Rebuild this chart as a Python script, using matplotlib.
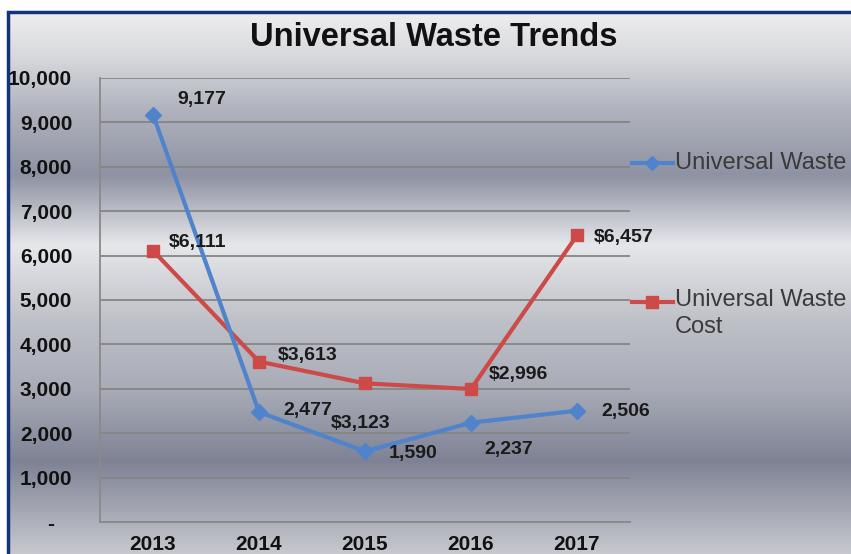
import matplotlib

matplotlib.use("Agg")
import matplotlib.pyplot as plt
import numpy as np
from matplotlib.colors import LinearSegmentedColormap
from matplotlib.lines import Line2D
from matplotlib.patches import Rectangle
from matplotlib.ticker import FuncFormatter

# --- data ---
years = ["2013", "2014", "2015", "2016", "2017"]
waste_lbs = [9177, 2477, 1590, 2237, 2506]
waste_cost = [6111, 3613, 3123, 2996, 6457]

# label offsets (pixels) from each point
waste_offsets = [(24, 15), (24, 2), (24, -2), (13, -27), (24, -1)]
cost_offsets = [(16, 8), (19, 6), (-34, -40), (18, 14), (17, -2)]

W, H = 851, 554
BLUE = "#4f84cc"
RED = "#cc4a48"
BORDER = "#15337a"

plt.rcParams["font.family"] = ["Liberation Sans", "DejaVu Sans"]

fig = plt.figure(figsize=(W / 100, H / 100), dpi=100)
fig.patch.set_facecolor("white")

# banded grey background behind everything
bg = fig.add_axes([8 / W, 0, 1 - 8 / W, 1 - 12 / H], zorder=0)
stops = [
    (0.00, "#c6c8ce"),
    (0.17, "#7e8294"),
    (0.30, "#a8abb6"),
    (0.43, "#bfc1c8"),
    (0.57, "#e6e7ea"),
    (0.70, "#8e92a2"),
    (0.82, "#b0b3bd"),
    (0.92, "#d8d9dd"),
    (1.00, "#eeeef0"),
]
cmap = LinearSegmentedColormap.from_list("bands", stops)
grad = np.linspace(0, 1, 512).reshape(-1, 1)
bg.imshow(grad, aspect="auto", cmap=cmap, origin="lower", extent=[0, 1, 0, 1])
bg.set_axis_off()

# frame around the chart (right and bottom edges run off the canvas)
fig.patches.append(
    Rectangle((8 / W, -0.1), 1.2, 1.1 - 12 / H, transform=fig.transFigure,
              fill=False, edgecolor=BORDER, linewidth=2.5, zorder=5)
)

ax = fig.add_axes([100 / W, 32 / H, 530 / W, 444 / H], zorder=2)
ax.patch.set_alpha(0)

x = np.arange(len(years))
ax.plot(x, waste_lbs, color=BLUE, lw=3, marker="D", ms=8, zorder=4)
ax.plot(x, waste_cost, color=RED, lw=3, marker="s", ms=9, zorder=3)

for xi, v, (dx, dy) in zip(x, waste_lbs, waste_offsets):
    ax.annotate(f"{v:,}", (xi, v), xytext=(dx, dy), textcoords="offset pixels",
                ha="left", va="center", fontsize=14, fontweight="bold",
                color="#1a1a1a", zorder=6)
for xi, v, (dx, dy) in zip(x, waste_cost, cost_offsets):
    ax.annotate(f"${v:,}", (xi, v), xytext=(dx, dy), textcoords="offset pixels",
                ha="left", va="center", fontsize=14, fontweight="bold",
                color="#1a1a1a", zorder=6)

ax.set_xlim(-0.5, len(years) - 0.5)
ax.set_ylim(0, 10000)
ax.set_yticks(np.arange(0, 10001, 1000))
ax.yaxis.set_major_formatter(FuncFormatter(lambda v, _: "-   " if v == 0 else f"{int(v):,}"))
ax.set_xticks(x)
ax.set_xticklabels(years)
ax.grid(axis="y", color="#858585", lw=1.3)
ax.set_axisbelow(True)
ax.tick_params(axis="both", length=0, labelsize=15, labelcolor="#111111")
ax.tick_params(axis="y", pad=20)
ax.tick_params(axis="x", pad=9)
for lbl in ax.get_xticklabels() + ax.get_yticklabels():
    lbl.set_fontweight("bold")
for side in ("top", "right"):
    ax.spines[side].set_visible(False)
for side in ("left", "bottom"):
    ax.spines[side].set_color("#8a8a8a")
    ax.spines[side].set_linewidth(1.3)

fig.text(434 / W, 1 - 38 / H, "Universal Waste Trends", ha="center", va="center",
         fontsize=23.5, fontweight="bold", color="#111111")

# legend entries on the right
legend_items = [
    (BLUE, "D", 7, "Universal Waste", 163),
    (RED, "s", 8, "Universal Waste\nCost", 302),
]
for color, mk, size, text, ypx in legend_items:
    yf = 1 - ypx / H
    fig.add_artist(Line2D([632 / W, 673 / W], [yf, yf], transform=fig.transFigure,
                          color=color, lw=3, zorder=6))
    fig.add_artist(Line2D([652 / W], [yf], transform=fig.transFigure, color=color,
                          marker=mk, ms=size, zorder=6))
    multi = "\n" in text
    fig.text(675 / W, yf + (13 / H if multi else 0), text, ha="left",
             va="top" if multi else "center", fontsize=17,
             color="#3a3a3a", linespacing=1.3)

fig.savefig("out.png", dpi=100)
